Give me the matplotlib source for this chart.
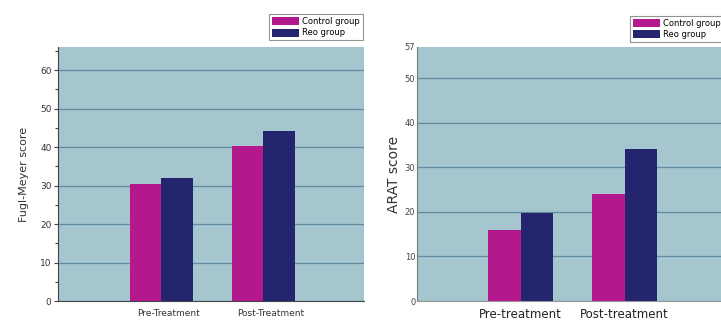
import numpy as np
import matplotlib.pyplot as plt
from matplotlib.ticker import MultipleLocator

# Data
groups = ['Control group', 'Reo group']
left_labels = ['Pre-Treatment', 'Post-Treatment']
left_control = [30.5, 40.3]
left_reo = [32.0, 44.2]
right_labels = ['Pre-treatment', 'Post-treatment']
right_control = [16.0, 24.0]
right_reo = [19.8, 34.2]

magenta = '#B3198C'
navy = '#25256F'
bg = '#A5C5CF'
gridc = '#5F8C9E'

fig = plt.figure(figsize=(7.21, 3.21), dpi=100)

# Left panel: Fugl-Meyer
ax1 = fig.add_axes([0.081, 0.0623, 0.424, 0.7913])
x = np.arange(1, len(left_labels) + 1)
w = 0.31
ax1.set_facecolor(bg)
ax1.bar(x - w / 2 + 0.01, left_control, w, color=magenta, label=groups[0], zorder=3)
ax1.bar(x + w / 2 + 0.01, left_reo, w, color=navy, label=groups[1], zorder=3)
ax1.set_xlim(0, 3)
ax1.set_ylim(0, 66)
ax1.yaxis.set_major_locator(MultipleLocator(10))
ax1.yaxis.set_minor_locator(MultipleLocator(5))
ax1.grid(axis='y', color=gridc, linewidth=0.9, zorder=1)
ax1.set_xticks(x + 0.08)
ax1.set_xticklabels(left_labels, fontsize=6.5, color='#333333')
ax1.tick_params(axis='x', length=0, pad=6)
ax1.tick_params(axis='y', labelsize=6.5, labelcolor='#333333', color='#444444',
                length=3, width=0.8, pad=2)
ax1.tick_params(axis='y', which='minor', length=2, width=0.8, color='#444444')
ax1.set_ylabel('Fugl-Meyer score', fontsize=8, color='#333333', labelpad=8)
for s in ['top', 'right']:
    ax1.spines[s].set_visible(False)
ax1.spines['left'].set_color('#444444')
ax1.spines['bottom'].set_color('#444444')
leg1 = ax1.legend(loc='lower left', bbox_to_anchor=(0.675, 1.01), fontsize=6,
                  frameon=True, fancybox=False, borderpad=0.35, labelspacing=0.25,
                  handlelength=3.2, handleheight=1.1, handletextpad=0.4)
leg1.get_frame().set_edgecolor('#777777')
leg1.get_frame().set_linewidth(0.8)

# Right panel: ARAT
ax2 = fig.add_axes([0.578, 0.0623, 0.4327, 0.7913])
x2 = np.arange(1, len(right_labels) + 1)
ax2.set_facecolor(bg)
ax2.bar(x2 - w / 2, right_control, w, color=magenta, label=groups[0], zorder=3)
ax2.bar(x2 + w / 2, right_reo, w, color=navy, label=groups[1], zorder=3)
ax2.set_xlim(0, 3)
ax2.set_ylim(0, 57)
ax2.set_yticks([0, 10, 20, 30, 40, 50, 57])
ax2.grid(axis='y', color=gridc, linewidth=0.9, zorder=1)
ax2.get_ygridlines()[-1].set_visible(False)
ax2.set_xticks(x2)
ax2.set_xticklabels(right_labels, fontsize=8.5, color='#222222')
ax2.tick_params(axis='x', length=0, pad=5)
ax2.tick_params(axis='y', length=0, labelsize=6, labelcolor='#444444', pad=1)
ax2.set_ylabel('ARAT score', fontsize=10, color='#333333', labelpad=3)
for s in ['top', 'right']:
    ax2.spines[s].set_visible(False)
ax2.spines['left'].set_color('#777777')
ax2.spines['bottom'].set_color('#999999')
leg2 = ax2.legend(loc='lower left', bbox_to_anchor=(0.67, 1.005), fontsize=6,
                  frameon=True, fancybox=False, borderpad=0.35, labelspacing=0.2,
                  handlelength=3.2, handleheight=1.0, handletextpad=0.4)
leg2.get_frame().set_edgecolor('#777777')
leg2.get_frame().set_linewidth(0.8)

fig.savefig('out.png', dpi=100)
